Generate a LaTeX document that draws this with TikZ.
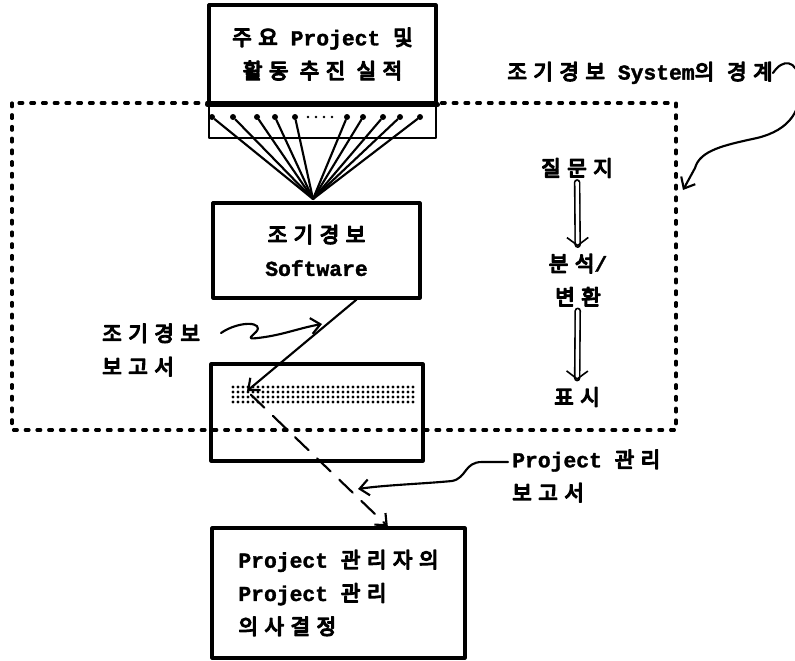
\documentclass[tikz,border=0pt]{standalone}
\usepackage{fontspec}
\setmainfont{Liberation Mono}[BoldFeatures={FakeBold=1.5}]
\newfontface\korfont[Scale=1,LetterSpace=30,FakeBold=6]{Noto Sans CJK KR}
\newcommand\kor[1]{{\korfont #1}}
\usetikzlibrary{arrows.meta}
\begin{document}
\begin{tikzpicture}[x=0.75pt,y=-0.75pt,line join=round,line cap=round,>={Straight Barb[length=7pt,width=12pt]}]
	\tikzset{
		every node/.style={font=\bfseries\fontsize{16}{25}\selectfont},
		box/.style={draw,line width=2.4pt,fill=white,align=center,inner sep=0pt},
		lbl/.style={inner sep=0pt,align=left},
		dot/.style={circle,fill,inner sep=0pt,minimum size=4.5pt},
		fan/.style={line width=1.6pt},
		dbl/.style={double,double distance=2.5pt,line width=1.2pt,shorten >=2pt,-{Straight Barb[length=6pt,width=16pt]}},
		wavy/.style={line width=1.6pt,->}
	}
	\useasboundingbox (0,0) rectangle (795,660);
	%% system boundary
	\draw[line width=2.4pt,dash pattern=on 2.8pt off 6pt] (12,103) rectangle (676,430);
	%% boxes
	\node[box,minimum width=170.25pt,minimum height=73.5pt] (plan) at (322.5,54) {\kor{주요} Project \kor{및}\\\kor{활동 추진 실적}};
	\draw[line width=3.6pt] (plan.south west)--(plan.south east);
	\node[draw,line width=1.5pt,inner sep=0pt,minimum width=170.25pt,minimum height=26.25pt] (band) at (322.5,120.5) {};
	\node[box,minimum width=155.25pt,minimum height=71.25pt] (sw) at (316.5,250.5) {\kor{조기경보}\\Software};
	\node[box,fill=none,minimum width=159pt,minimum height=72.75pt] (rep) at (317,412.5) {};
	\node[box,align=left,minimum width=189.75pt,minimum height=97.5pt] (dec) at (338.5,593) {Project \kor{관리자의}\\Project \kor{관리}\\\kor{의사결정}};
	%% items fanning into the software
	\coordinate (hub) at (313,199);
	\foreach \x [count=\i] in {212,233,257,275,295,347,363,383,400,420}{
		\node[dot] (d\i) at (\x,117) {};
		\draw[fan] (d\i)--(hub);
	}
	\foreach \x in {308,316,324,332} \fill (\x,117) circle (1.1pt);
	%% report grid
	\foreach \i in {0,...,36}
		\foreach \j in {0,...,3} \fill (233+5*\i,387+5*\j) circle (1.15pt);
	\coordinate (hit) at (247,391);
	\draw[fan,->] ([xshift=30pt]sw.south)--(hit);
	\draw[fan,->,dash pattern=on 14pt off 9pt,shorten <=4pt] (hit)--([xshift=37pt]dec.north);
	%% right column
	\node (qs) at (577,168) {\kor{질문지}};
	\node[align=center] (an) at (578,280) {\kor{분석}/\\\kor{변환}};
	\node (ds) at (577,397) {\kor{표시}};
	\draw[dbl] (qs)--(an);
	\draw[dbl] (an)--(ds);
	%% labels
	\node[lbl,anchor=west] (warn) at (102,350) {\kor{조기경보}\\\kor{보고서}};
	\coordinate (w0) at (221,333);
	\coordinate (w1) at (322,324);
	\draw[wavy] (w0) .. controls (240,320) and (265,322) .. (256,332) .. controls (250,338) and (245,340) .. (265,337) .. controls (285,334) and (300,328) .. (w1);
	\node[lbl,anchor=west] (pm) at (512,476) {Project \kor{관리}\\\kor{보고서}};
	\coordinate (p0) at (508,462);
	\coordinate (p1) at (358,489);
	\draw[wavy] (p0)--(482,462) .. controls (464,462) and (467,478) .. (452,481) .. controls (420,484) and (385,485) .. (p1);
	\node[lbl,anchor=east] (bd) at (773,73) {\kor{조기경보} System\kor{의} \kor{경계}};
	\coordinate (b1) at (683,190);
	\draw[wavy] (bd.east) .. controls (783,58) and (796,60) .. (800,80) .. controls (803,110) and (790,130) .. (757,138) .. controls (725,145) and (700,150) .. (695,168) -- (b1);
\end{tikzpicture}
\end{document}
